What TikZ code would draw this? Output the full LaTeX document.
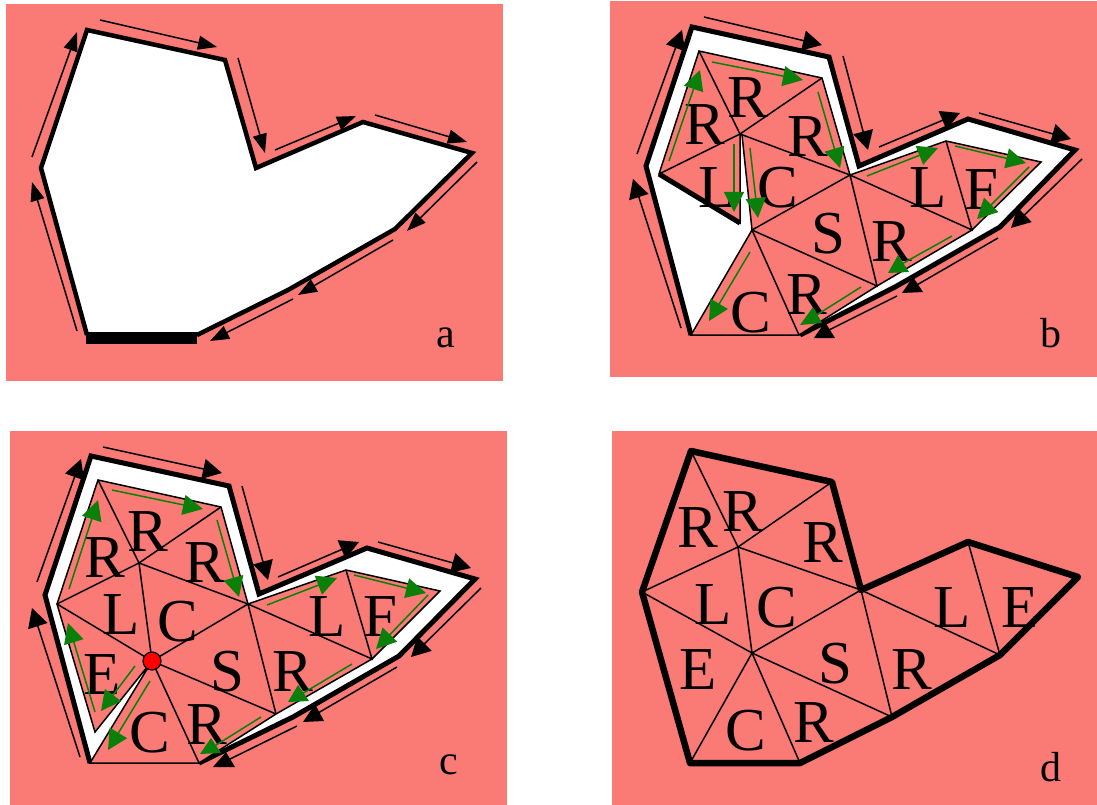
\documentclass[tikz,border=0pt]{standalone}
\usepackage{fontspec}
\setmainfont{Liberation Serif}
\usetikzlibrary{arrows.meta,positioning}
\definecolor{salmon}{HTML}{FA7A75}
\definecolor{arrowgreen}{HTML}{0A800A}

\begin{document}
\begin{tikzpicture}[
  x=1pt,y=-1pt,
  panel/.style={fill=salmon},
  outline/.style={draw=black,line width=5pt,line join=miter},
  mesh/.style={draw=black,line width=1.5pt,line join=miter},
  guide/.style={-{Triangle[length=19pt,width=14pt]},line width=1.5pt},
  bigguide/.style={-{Triangle[length=19pt,width=20pt]},line width=1.5pt},
  plainguide/.style={line width=1.5pt},
  greenguide/.style={-{Triangle[length=20pt,width=20pt]},line width=1.5pt,arrowgreen},
  plaingreen/.style={line width=1.5pt,arrowgreen},
  tip/.style={fill=black},
  greentip/.style={fill=arrowgreen},
  letter/.style={inner sep=0pt,font=\fontsize{61}{61}\selectfont},
  tag/.style={inner sep=0pt,font=\fontsize{42}{42}\selectfont}
]
\useasboundingbox (0,0) rectangle (1097,805);

% panels
\fill[panel] (6,4) rectangle (503,381);
\fill[panel] (610,1) rectangle (1097,377);
\fill[panel] (10,431) rectangle (507,805);
\fill[panel] (612,431) rectangle (1097,805);

% panel a
\coordinate (a1) at (87,30);
\coordinate (a2) at (225,60);
\coordinate (a3) at (256,168);
\coordinate (a4) at (363,122);
\coordinate (a5) at (472,153);
\coordinate (a6) at (395,229);
\coordinate (a7) at (288,290);
\coordinate (a8) at (197,335);
\coordinate (a9) at (87,335);
\coordinate (a10) at (41,168);
\fill[white] (a1) -- (a2) -- (a3) -- (a4) -- (a5) -- (a6) -- (a7) -- (a8) -- (a9) -- (a10) -- cycle;
\draw[outline,line width=4.5pt] (a8) -- (a7) -- (a6) -- (a5) -- (a4) -- (a3) -- (a2) -- (a1) -- (a10) -- (a9);
\draw[line width=11.5pt] (86,338) -- (197,338);
\draw[guide] (100,20) -- (217,47);
\draw[guide] (238,58) -- (265,153);
\draw[guide] (275,150) -- (356,116);
\draw[guide] (375,115) -- (467,142);
\draw[guide] (477,162) -- (407,231);
\draw[guide] (393,240) -- (298,295);
\draw[guide] (293,299) -- (210,341);
\draw[guide] (77,331) -- (32,182);
\draw[guide] (32,157) -- (77,32);
\node[tag] (taga) at (446,338) {a};

% panel b
\coordinate (b1) at (692,27);
\coordinate (b2) at (829,57);
\coordinate (b3) at (859,166);
\coordinate (b4) at (968,119);
\coordinate (b5) at (1075,150);
\coordinate (b6) at (1000,227);
\coordinate (b7) at (895,287);
\coordinate (b8) at (800,335);
\coordinate (b9) at (691,335);
\coordinate (b10) at (646,166);
\fill[white] (b1) -- (b2) -- (b3) -- (b4) -- (b5) -- (b6) -- (b7) -- (b8) -- (b9) -- (b10) -- cycle;
\draw[outline] (b8) -- (b7) -- (b6) -- (b5) -- (b4) -- (b3) -- (b2) -- (b1) -- (b10) -- (b9);
\coordinate (q1) at (699,51);
\coordinate (q2) at (822,78);
\coordinate (q3) at (850,175);
\coordinate (q4) at (946,141);
\coordinate (q5) at (1041,162);
\coordinate (q6) at (972,230);
\coordinate (q7) at (877,286);
\coordinate (q8) at (799,335);
\coordinate (q9) at (691,335);
\coordinate (q10) at (659,174);
\coordinate (hub) at (740,134);
\coordinate (hubr) at (742,135);
\coordinate (low) at (752,230);
\coordinate (cut) at (740,223);
\filldraw[mesh,fill=salmon] (q10) -- (q1) -- (q2) -- (q3) -- (q4) -- (q5) -- (q6) -- (q7) -- (q8) -- (q9) -- (low) -- (hubr) -- (hub) -- (cut) -- cycle;
\draw[mesh] (q1) -- (hub) -- (q2);
\draw[mesh] (q10) -- (hub) -- (q3);
\draw[mesh] (q3) -- (low) -- (q8);
\draw[mesh] (low) -- (q7) -- (q3) -- (q6) -- (q4);
\draw[outline] (q10) -- (cut);
\node[letter] (br1) at (705,125) {R};
\node[letter] (br2) at (748,98) {R};
\node[letter] (br3) at (808,137) {R};
\node[letter] (bl1) at (717,188) {L};
\node[letter] (bc1) at (778,188) {C};
\node[letter] (bl2) at (928,188) {L};
\node[letter] (bf) at (981,190) {F};
\node[letter] (bs) at (828,234) {S};
\node[letter] (br4) at (892,242) {R};
\node[letter] (bc2) at (751,313) {C};
\node[letter] (br5) at (807,295) {R};
\node[tag] (tagb) at (1051,333) {b};
\draw[bigguide] (704,17) -- (822,45);
\draw[bigguide] (843,56) -- (868,150);
\draw[bigguide] (879,147) -- (960,113);
\draw[bigguide] (979,113) -- (1071,139);
\draw[bigguide] (1082,159) -- (1011,228);
\draw[plainguide] (998,238) -- (915,286);
\fill[tip] (913,277) -- (902,293) -- (923,292) -- cycle;
\draw[plainguide] (897,296) -- (825,332);
\fill[tip] (825,322) -- (814,338) -- (835,338) -- cycle;
\draw[bigguide] (681,328) -- (633,179);
\draw[bigguide] (637,154) -- (682,30);
\draw[greenguide] (669,161) -- (700,70);
\draw[greenguide] (712,62) -- (803,80);
\draw[greenguide] (818,92) -- (840,168);
\draw[greenguide] (867,176) -- (938,148);
\draw[greenguide] (955,146) -- (1026,163);
\draw[greenguide] (1029,167) -- (977,219);
\draw[plaingreen] (952,236) -- (900,265);
\fill[greentip] (898,255) -- (888,273) -- (909,272) -- cycle;
\draw[plaingreen] (861,287) -- (815,316);
\fill[greentip] (813,307) -- (800,325) -- (822,323) -- cycle;
\draw[greenguide] (750,252) -- (709,321);
\draw[greenguide] (750,148) -- (758,218);
\draw[greenguide] (734,144) -- (734,212);

% panel c
\coordinate (c1) at (91,456);
\coordinate (c2) at (229,486);
\coordinate (c3) at (259,594);
\coordinate (c4) at (367,548);
\coordinate (c5) at (475,579);
\coordinate (c6) at (399,656);
\coordinate (c7) at (293,717);
\coordinate (c8) at (199,763);
\coordinate (c9) at (90,763);
\coordinate (c10) at (45,595);
\fill[white] (c1) -- (c2) -- (c3) -- (c4) -- (c5) -- (c6) -- (c7) -- (c8) -- (c9) -- (c10) -- cycle;
\draw[outline] (c8) -- (c7) -- (c6) -- (c5) -- (c4) -- (c3) -- (c2) -- (c1) -- (c10) -- (c9);
\coordinate (t1) at (98,480);
\coordinate (t2) at (221,507);
\coordinate (t3) at (248,604);
\coordinate (t4) at (346,570);
\coordinate (t5) at (440,591);
\coordinate (t6) at (372,659);
\coordinate (t7) at (276,714);
\coordinate (t10) at (57,604);
\coordinate (chub) at (139,563);
\coordinate (clow) at (152,661);
\coordinate (cfoot) at (95,732);
\filldraw[mesh,fill=salmon] (t10) -- (t1) -- (t2) -- (t3) -- (t4) -- (t5) -- (t6) -- (t7) -- (c8) -- (c9) -- (clow) -- (cfoot) -- cycle;
\draw[mesh] (t1) -- (chub) -- (t2);
\draw[mesh] (t10) -- (chub) -- (t3);
\draw[mesh] (chub) -- (clow) -- (t3);
\draw[mesh] (t10) -- (clow) -- (t7);
\draw[mesh] (clow) -- (c8);
\draw[mesh] (t7) -- (t3) -- (t6) -- (t4);
\node[letter] (cr1) at (105,558) {R};
\node[letter] (cr2) at (148,532) {R};
\node[letter] (cr3) at (205,563) {R};
\node[letter] (cl1) at (121,615) {L};
\node[letter] (cc1) at (178,622) {C};
\node[letter] (cl2) at (327,617) {L};
\node[letter] (cf) at (380,617) {F};
\node[letter] (ce) at (102,675) {E};
\node[letter] (cs) at (227,672) {S};
\node[letter] (cr4) at (293,672) {R};
\node[letter] (cc2) at (150,733) {C};
\node[letter] (cr5) at (207,725) {R};
\node[tag] (tagc) at (449,765) {c};
\filldraw[draw=black,line width=1.2pt,fill=red] (clow) circle (9);
\draw[bigguide] (103,447) -- (222,473);
\draw[bigguide] (242,486) -- (268,580);
\draw[bigguide] (278,577) -- (359,542);
\draw[bigguide] (378,542) -- (471,568);
\draw[bigguide] (481,588) -- (411,657);
\draw[plainguide] (397,667) -- (318,713);
\fill[tip] (315,704) -- (303,722) -- (324,721) -- cycle;
\draw[plainguide] (297,726) -- (228,760);
\fill[tip] (226,752) -- (213,767) -- (235,767) -- cycle;
\draw[bigguide] (80,757) -- (32,608);
\draw[bigguide] (37,582) -- (81,459);
\draw[greenguide] (69,589) -- (98,500);
\draw[greenguide] (112,490) -- (203,509);
\draw[greenguide] (217,520) -- (239,597);
\draw[greenguide] (267,605) -- (337,578);
\draw[greenguide] (354,575) -- (426,593);
\draw[greenguide] (428,595) -- (376,649);
\draw[plaingreen] (352,664) -- (300,695);
\fill[greentip] (298,685) -- (288,702) -- (309,701) -- cycle;
\draw[plaingreen] (261,717) -- (213,747);
\fill[greentip] (211,738) -- (200,754) -- (221,753) -- cycle;
\draw[greenguide] (150,681) -- (108,750);
\draw[greenguide] (135,666) -- (101,711);
\draw[greenguide] (95,712) -- (68,623);

% panel d
\coordinate (d1) at (691,451);
\coordinate (d2) at (832,482);
\coordinate (d3) at (861,590);
\coordinate (d4) at (968,542);
\coordinate (d5) at (1078,577);
\coordinate (d6) at (1000,655);
\coordinate (d7) at (892,717);
\coordinate (d8) at (800,763);
\coordinate (d9) at (690,763);
\coordinate (d10) at (642,592);
\coordinate (dhub) at (738,547);
\coordinate (dlow) at (752,653);
\draw[mesh] (d1) -- (dhub) -- (d2);
\draw[mesh] (d10) -- (dhub) -- (d3);
\draw[mesh] (dhub) -- (dlow) -- (d3);
\draw[mesh] (d10) -- (dlow) -- (d7);
\draw[mesh] (d9) -- (dlow) -- (d8);
\draw[mesh] (d7) -- (d3) -- (d6) -- (d4);
\draw[outline,line width=6.5pt,line join=round] (d1) -- (d2) -- (d3) -- (d4) -- (d5) -- (d6) -- (d7) -- (d8) -- (d9) -- (d10) -- cycle;
\node[letter] (dr1) at (698,528) {R};
\node[letter] (dr2) at (743,512) {R};
\node[letter] (dr3) at (823,543) {R};
\node[letter] (dl1) at (713,605) {L};
\node[letter] (dc1) at (777,608) {C};
\node[letter] (dl2) at (952,608) {L};
\node[letter] (de1) at (1020,608) {E};
\node[letter] (de2) at (698,670) {E};
\node[letter] (ds) at (835,664) {S};
\node[letter] (dr4) at (912,670) {R};
\node[letter] (dc2) at (746,731) {C};
\node[letter] (dr5) at (814,723) {R};
\node[tag] (tagd) at (1051,767) {d};
\end{tikzpicture}
\end{document}
